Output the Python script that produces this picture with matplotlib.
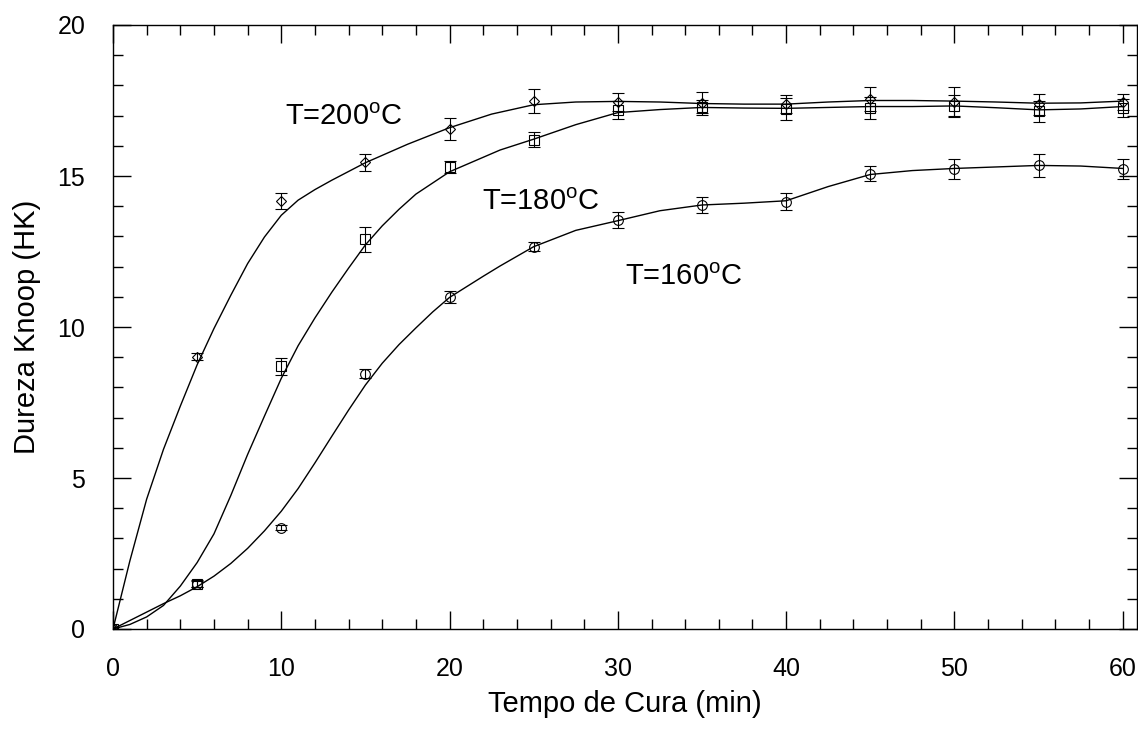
import numpy as np
import matplotlib
matplotlib.use('Agg')
import matplotlib.pyplot as plt
from matplotlib.ticker import MultipleLocator

plt.rcParams['font.family'] = ['Liberation Sans', 'DejaVu Sans']
plt.rcParams['mathtext.fontset'] = 'custom'
plt.rcParams['mathtext.rm'] = 'Liberation Sans'

# dados medidos (tempo em min, dureza em HK)
tempo = [0, 5, 10, 15, 20, 25, 30, 35, 40, 45, 50, 55, 60]

hk_200 = [0, 9.02, 14.18, 15.46, 16.55, 17.48, 17.45, 17.42, 17.38, 17.55, 17.45, 17.38, 17.45]
err_200 = [0.05, 0.12, 0.27, 0.28, 0.36, 0.4, 0.3, 0.35, 0.3, 0.4, 0.5, 0.35, 0.25]

hk_180 = [0, 1.5, 8.7, 12.9, 15.3, 16.2, 17.2, 17.27, 17.22, 17.25, 17.33, 17.15, 17.25]
err_180 = [0.05, 0.12, 0.28, 0.41, 0.2, 0.25, 0.3, 0.25, 0.35, 0.35, 0.35, 0.35, 0.3]

hk_160 = [0, 1.5, 3.35, 8.45, 11.0, 12.66, 13.54, 14.04, 14.15, 15.07, 15.23, 15.35, 15.23]
err_160 = [0.05, 0.1, 0.08, 0.15, 0.2, 0.15, 0.27, 0.25, 0.28, 0.25, 0.32, 0.37, 0.32]

# curvas de ajuste
t_fit_200 = [0, 1, 2, 3, 4, 5, 6, 7, 8, 9, 10, 11, 12, 13, 14, 15, 17.5, 20, 22.5, 25,
             27.5, 30, 32.5, 35, 37.5, 40, 42.5, 45, 47.5, 50, 52.5, 55, 57.5, 60]
y_fit_200 = [0, 2.25, 4.3, 5.95, 7.38, 8.75, 9.95, 11.05, 12.1, 12.98, 13.7, 14.2, 14.55, 14.86, 15.15,
             15.44, 16.05, 16.6, 17.05, 17.36, 17.45, 17.47, 17.45, 17.4, 17.38, 17.38, 17.45,
             17.5, 17.5, 17.48, 17.45, 17.41, 17.42, 17.48]

t_fit_180 = [0, 1, 2, 3, 4, 5, 6, 7, 8, 9, 10, 11, 12, 13, 14, 15, 16, 17, 18, 20, 22, 23, 25,
             27.5, 30, 32.5, 35, 37.5, 40, 42.5, 45, 47.5, 50, 52.5, 55, 57.5, 60]
y_fit_180 = [0, 0.15, 0.4, 0.78, 1.42, 2.2, 3.15, 4.42, 5.78, 7.05, 8.3, 9.38, 10.3, 11.15, 11.95,
             12.72, 13.35, 13.9, 14.4, 15.14, 15.62, 15.86, 16.22, 16.7, 17.1, 17.2, 17.27, 17.25,
             17.24, 17.27, 17.3, 17.3, 17.32, 17.26, 17.19, 17.22, 17.3]

t_fit_160 = [0, 1, 2, 3, 4, 5, 6, 7, 8, 9, 10, 11, 12, 13, 14, 15, 16, 17, 18, 19, 20, 22, 23,
             25, 27.5, 30, 32.5, 35, 37.5, 40, 42.5, 45, 47.5, 50, 52.5, 55, 57.5, 60]
y_fit_160 = [0, 0.28, 0.56, 0.84, 1.1, 1.4, 1.75, 2.17, 2.67, 3.25, 3.9, 4.65, 5.5, 6.38, 7.25,
             8.08, 8.8, 9.42, 9.97, 10.5, 10.98, 11.68, 12.02, 12.66, 13.2, 13.52, 13.85, 14.04,
             14.1, 14.18, 14.65, 15.05, 15.18, 15.25, 15.3, 15.35, 15.33, 15.25]

fig = plt.figure(figsize=(11.38, 7.34), dpi=100)
ax = fig.add_axes([113 / 1138, 1 - 629 / 734, 1024 / 1138, 604 / 734])

ax.plot(t_fit_200, y_fit_200, color='black', lw=1.0)
ax.plot(t_fit_180, y_fit_180, color='black', lw=1.0)
ax.plot(t_fit_160, y_fit_160, color='black', lw=1.0)

estilo = dict(ls='none', color='black', mfc='none', mec='black', mew=0.8,
              ecolor='black', elinewidth=0.8, capsize=4, capthick=0.8)
ax.errorbar(tempo, hk_200, yerr=err_200, marker='D', ms=5.5, **estilo)
ax.errorbar(tempo, hk_180, yerr=err_180, marker='s', ms=6.5, **estilo)
ax.errorbar(tempo, hk_160, yerr=err_160, marker='o', ms=7, **estilo)

ax.text(10.2, 16.7, r'T=200$^{\mathrm{o}}$C', fontsize=21)
ax.text(21.9, 13.87, r'T=180$^{\mathrm{o}}$C', fontsize=21)
ax.text(30.4, 11.39, r'T=160$^{\mathrm{o}}$C', fontsize=21)

ax.set_xlim(0, 60.85)
ax.set_ylim(0, 20)
ax.xaxis.set_major_locator(MultipleLocator(10))
ax.xaxis.set_minor_locator(MultipleLocator(2))
ax.yaxis.set_major_locator(MultipleLocator(5))
ax.yaxis.set_minor_locator(MultipleLocator(1))
ax.tick_params(which='both', direction='in', top=True, right=True, labelsize=18, pad=20)
ax.tick_params(which='major', length=13, width=1)
ax.tick_params(which='minor', length=7, width=1)
for s in ax.spines.values():
    s.set_linewidth(1)

ax.set_xlabel('Tempo de Cura (min)', fontsize=21, labelpad=7)
ax.set_ylabel('Dureza Knoop (HK)', fontsize=21, labelpad=12)

fig.savefig('out.png', dpi=100)
